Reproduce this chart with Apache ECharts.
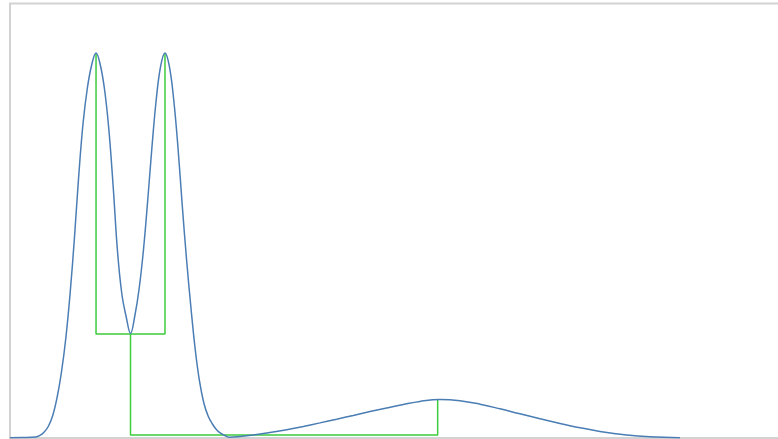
<!DOCTYPE html>
<html>
<head>
<meta charset="utf-8">
<script src="https://cdn.jsdelivr.net/npm/echarts@6/dist/echarts.min.js"></script>
<style>
  html, body { margin: 0; padding: 0; background: #ffffff; }
  #chart { width: 778px; height: 439px; }
</style>
</head>
<body>
<div id="chart"></div>
<script>
// Density curve sampled along x (0..100) with its value (0..100 scale)
const densityX = [0, 1.6,
  3.29, 3.84, 4.39, 4.94, 5.50, 6.05, 6.60, 7.16, 7.71, 8.26, 8.81, 9.37, 9.92, 10.47,
  11.03, 11.58, 12.13, 12.68, 13.24, 13.79, 14.34, 14.90, 15.45, 16.00, 16.55, 17.11, 17.66, 18.21,
  18.77, 19.32, 19.87, 20.42, 20.98, 21.53, 22.08, 22.64, 23.19, 23.74, 24.29, 24.85, 25.40, 25.95,
  26.51, 27.06, 27.61, 28.17, 29.49,
  31.19, 33.33, 35.47, 37.60, 39.74, 41.88, 44.01, 46.15, 48.29, 50.42, 52.56, 55.13, 57.69, 60.26,
  62.82, 65.38, 67.95, 70.51, 73.08, 75.64, 79.06, 82.05, 85.90];
const densityY = [0.08, 0.12,
  0.23, 0.60, 1.38, 2.76, 5.29, 9.44, 15.19, 23.01, 33.37, 46.03, 60.30, 72.50, 80.55, 85.85,
  88.61, 85.85, 80.09, 70.89, 57.54, 42.81, 33.14, 27.85, 24.05, 28.08, 34.29, 43.27, 54.78, 67.20,
  78.25, 85.62, 88.61, 85.62, 78.02, 66.97, 53.62, 40.97, 30.15, 20.48, 13.12, 8.06, 5.06, 3.22,
  1.84, 1.04, 0.51, 0.18, 0.35,
  0.69, 1.24, 1.91, 2.67, 3.48, 4.33, 5.20, 6.08, 6.90, 7.71, 8.42, 8.86, 8.58, 7.78,
  6.72, 5.57, 4.44, 3.36, 2.37, 1.52, 0.71, 0.30, 0.07];

// Modes of the density and the saddle levels at which they merge
const peakX = [11.03, 19.87, 54.83];
const peakY = [88.61, 88.61, 8.86];
const mergeY = [23.94, 0.69];

const curve = densityX.map((x, i) => [x, densityY[i]]);

// First merge: the two tall modes joined at the first saddle level
const mid01 = (peakX[0] + peakX[1]) / 2;
const merge1 = [
  [peakX[0], peakY[0]], [peakX[0], mergeY[0]],
  [peakX[1], mergeY[0]], [peakX[1], peakY[1]]
];
// Second merge: the joined pair with the broad mode at the second saddle level
const merge2 = [
  [mid01, mergeY[0]], [mid01, mergeY[1]],
  [peakX[2], mergeY[1]], [peakX[2], peakY[2]]
];

const chart = echarts.init(document.getElementById('chart'), null, { renderer: 'canvas' });
const treeStyle = { color: '#3ccc3c', width: 1.5 };
chart.setOption({
  animation: false,
  grid: {
    show: true, left: 10, top: 3.5, width: 780, height: 434.5,
    outerBoundsMode: 'none', containLabel: false,
    borderColor: '#d2d2d2', borderWidth: 2, backgroundColor: '#ffffff'
  },
  xAxis: {
    type: 'value', min: 0, max: 100,
    axisLine: { show: false }, axisTick: { show: false },
    axisLabel: { show: false }, splitLine: { show: false }
  },
  yAxis: {
    type: 'value', min: 0, max: 100,
    axisLine: { show: false }, axisTick: { show: false },
    axisLabel: { show: false }, splitLine: { show: false }
  },
  series: [
    {
      type: 'line', data: curve, showSymbol: false, smooth: 0.4,
      lineStyle: { color: '#4a7db4', width: 1.5 }, z: 3
    },
    { type: 'line', data: merge1, showSymbol: false, lineStyle: treeStyle, z: 2 },
    { type: 'line', data: merge2, showSymbol: false, lineStyle: treeStyle, z: 2 }
  ]
});
</script>
</body>
</html>
